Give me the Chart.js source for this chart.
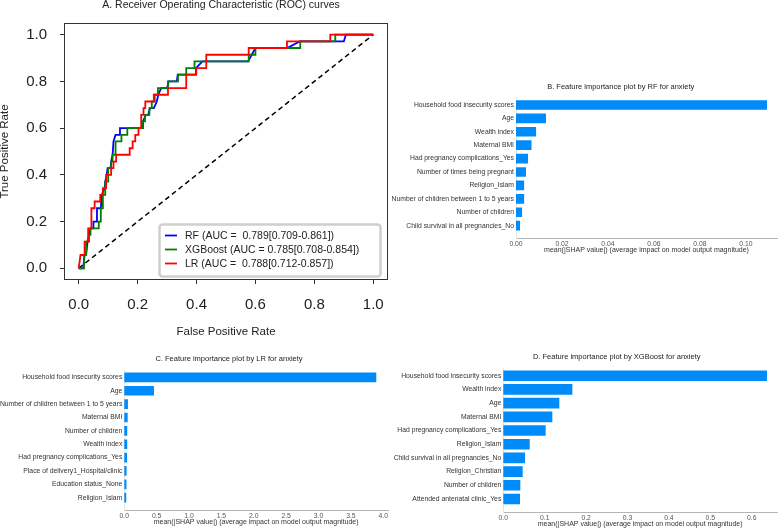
<!DOCTYPE html>
<html>
<head>
<meta charset="utf-8">
<title>ROC curves and SHAP feature importance</title>
<script src="https://cdn.jsdelivr.net/npm/chart.js@4.4.0/dist/chart.umd.min.js"></script>
<style>
    html, body { margin: 0; padding: 0; background: #fff; }
    #wrap { position: relative; width: 780px; height: 528px; }
    #wrap canvas { position: absolute; left: 0; top: 0; }
</style>
</head>
<body>
<div id="wrap">
    <canvas id="rocChart" width="780" height="528"></canvas>
    <canvas id="rfChart" width="780" height="528"></canvas>
    <canvas id="lrChart" width="780" height="528"></canvas>
    <canvas id="xgbChart" width="780" height="528"></canvas>
</div>
<script>
// ROC curves as [fpr, tpr] vertices
const rfRoc = [[0,0],[0.015,0],[0.02,0.057],[0.025,0.057],[0.03,0.114],[0.035,0.143],[0.04,0.171],[0.05,0.171],[0.05,0.2],
    [0.062,0.2],[0.062,0.257],[0.075,0.257],[0.078,0.314],[0.088,0.343],[0.09,0.371],[0.095,0.4],[0.098,0.429],[0.108,0.429],
    [0.11,0.457],[0.115,0.486],[0.118,0.543],[0.125,0.571],[0.138,0.571],[0.14,0.6],[0.215,0.6],[0.218,0.629],[0.228,0.657],
    [0.236,0.657],[0.242,0.686],[0.255,0.686],[0.265,0.714],[0.27,0.743],[0.28,0.771],[0.3,0.771],[0.305,0.8],[0.333,0.8],
    [0.336,0.829],[0.398,0.829],[0.398,0.857],[0.42,0.886],[0.575,0.886],[0.6,0.943],[0.708,0.943],[0.75,0.971],[0.9,0.971],
    [0.907,1],[1,1]];
const xgbRoc = [[0,0],[0.018,0],[0.018,0.057],[0.025,0.057],[0.025,0.114],[0.035,0.114],[0.035,0.143],[0.04,0.143],[0.04,0.171],
    [0.068,0.171],[0.068,0.2],[0.075,0.2],[0.075,0.257],[0.082,0.257],[0.082,0.314],[0.09,0.314],[0.09,0.371],[0.1,0.371],
    [0.1,0.429],[0.11,0.429],[0.11,0.457],[0.115,0.457],[0.115,0.486],[0.125,0.486],[0.125,0.543],[0.145,0.543],[0.145,0.571],
    [0.165,0.571],[0.165,0.6],[0.215,0.6],[0.215,0.629],[0.225,0.629],[0.225,0.657],[0.24,0.657],[0.24,0.686],[0.248,0.686],
    [0.248,0.714],[0.258,0.714],[0.258,0.743],[0.269,0.743],[0.269,0.771],[0.303,0.771],[0.303,0.8],[0.337,0.8],[0.337,0.829],
    [0.365,0.829],[0.365,0.857],[0.393,0.857],[0.393,0.886],[0.577,0.886],[0.577,0.914],[0.6,0.914],[0.6,0.943],[0.752,0.943],
    [0.752,0.971],[0.871,0.971],[0.871,1],[1,1]];
const lrRoc = [[0,0],[0.006,0.057],[0.02,0.057],[0.02,0.114],[0.032,0.114],[0.032,0.171],[0.043,0.171],[0.043,0.257],
    [0.054,0.257],[0.054,0.286],[0.073,0.286],[0.073,0.314],[0.082,0.314],[0.082,0.343],[0.093,0.343],[0.093,0.4],[0.11,0.4],
    [0.11,0.429],[0.118,0.429],[0.118,0.457],[0.127,0.457],[0.127,0.486],[0.173,0.486],[0.173,0.514],[0.183,0.514],[0.183,0.543],
    [0.192,0.543],[0.192,0.571],[0.203,0.571],[0.203,0.6],[0.212,0.6],[0.212,0.657],[0.22,0.657],[0.22,0.686],[0.226,0.686],
    [0.226,0.714],[0.255,0.714],[0.255,0.743],[0.303,0.743],[0.303,0.771],[0.365,0.771],[0.365,0.829],[0.399,0.829],
    [0.399,0.857],[0.433,0.857],[0.433,0.914],[0.577,0.914],[0.577,0.943],[0.707,0.943],[0.707,0.971],[0.854,0.971],[0.854,1],[1,1]];
const chanceLine = [[0,0],[1,1]];
const rocLabels = ['RF (AUC =  0.789[0.709-0.861])', 'XGBoost (AUC = 0.785[0.708-0.854])', 'LR (AUC =  0.788[0.712-0.857])'];
const rocTicks = [0, 0.2, 0.4, 0.6, 0.8, 1.0];

// SHAP mean |value| per feature, top to bottom
const rfFeatures = ['Household food insecurity scores', 'Age', 'Wealth index', 'Maternal BMI', 'Had pregnancy complications_Yes',
    'Number of times being pregnant', 'Religion_Islam', 'Number of children between 1 to 5 years', 'Number of children',
    'Child survival in all pregnancies_No'];
const rfShap = [0.109, 0.0129, 0.0086, 0.0066, 0.0051, 0.0042, 0.0034, 0.0034, 0.0025, 0.0016];
const rfTicks = [0, 0.02, 0.04, 0.06, 0.08, 0.10];

const lrFeatures = ['Household food insecurity scores', 'Age', 'Number of children between 1 to 5 years', 'Maternal BMI',
    'Number of children', 'Wealth index', 'Had pregnancy complications_Yes', 'Place of delivery1_Hospital/clinic',
    'Education status_None', 'Religion_Islam'];
const lrShap = [3.887, 0.453, 0.051, 0.047, 0.04, 0.04, 0.037, 0.03, 0.028, 0.025];
const lrTicks = [0, 0.5, 1.0, 1.5, 2.0, 2.5, 3.0, 3.5, 4.0];

const xgbFeatures = ['Household food insecurity scores', 'Wealth index', 'Age', 'Maternal BMI', 'Had pregnancy complications_Yes',
    'Religion_Islam', 'Child survival in all pregnancies_No', 'Religion_Christian', 'Number of children',
    'Attended antenatal clinic_Yes'];
const xgbShap = [0.636, 0.166, 0.1345, 0.1176, 0.1015, 0.063, 0.0517, 0.046, 0.0403, 0.0395];
const xgbTicks = [0, 0.1, 0.2, 0.3, 0.4, 0.5, 0.6];

const shapAxisTitle = 'mean(|SHAP value|) (average impact on model output magnitude)';
const shapBlue = '#008bfb';

Chart.defaults.font.family = "'Liberation Sans', Arial, Helvetica, sans-serif";
Chart.defaults.color = '#333';

// draws a panel title at a fixed spot
function panelTitle(text, x, y, size) {
    return {
        id: 'panelTitle',
        afterDraw(chart) {
            const ctx = chart.ctx;
            ctx.save();
            ctx.font = size + "px 'Liberation Sans', Arial, sans-serif";
            ctx.fillStyle = '#222';
            ctx.textAlign = 'center';
            ctx.textBaseline = 'middle';
            ctx.fillText(text, x, y);
            ctx.restore();
        }
    };
}

function toPoints(pairs) {
    return pairs.map(p => ({ x: p[0], y: p[1] }));
}

function rocSet(label, pairs, color, order) {
    return {
        label: label,
        data: toPoints(pairs),
        showLine: true,
        borderColor: color,
        backgroundColor: color,
        borderWidth: 1.8,
        pointRadius: 0,
        order: order
    };
}

// ROC panel
const rocBox = { left: 64, right: 388, top: 23, bottom: 280 };

const frame = {
    id: 'frame',
    afterDatasetsDraw(chart) {
        const a = chart.chartArea;
        const ctx = chart.ctx;
        ctx.save();
        ctx.strokeStyle = '#333';
        ctx.lineWidth = 1;
        ctx.strokeRect(a.left + 0.5, a.top + 0.5, a.right - a.left - 1, a.bottom - a.top - 1);
        ctx.restore();
    }
};

const rocLegend = {
    id: 'rocLegend',
    afterDraw(chart) {
        const ctx = chart.ctx;
        ctx.save();
        ctx.beginPath();
        ctx.roundRect(159.5, 224.5, 221, 52, 3);
        ctx.fillStyle = 'rgba(255,255,255,0.85)';
        ctx.fill();
        ctx.strokeStyle = '#cfcfcf';
        ctx.lineWidth = 2.5;
        ctx.stroke();
        ctx.font = "10.5px 'Liberation Sans', Arial, sans-serif";
        ctx.textBaseline = 'middle';
        ctx.textAlign = 'left';
        const rows = [235.5, 249.5, 263.5];
        for (let i = 0; i < 3; i++) {
            const ds = chart.data.datasets[i];
            ctx.strokeStyle = ds.borderColor;
            ctx.lineWidth = 1.8;
            ctx.beginPath();
            ctx.moveTo(165, rows[i]);
            ctx.lineTo(177, rows[i]);
            ctx.stroke();
            ctx.fillStyle = '#222';
            ctx.fillText(ds.label, 185, rows[i] + 0.5);
        }
        ctx.restore();
    }
};

function rocAxis(titleText, titlePad, labelPad) {
    return {
        type: 'linear',
        min: -0.05,
        max: 1.05,
        afterBuildTicks: s => { s.ticks = rocTicks.map(v => ({ value: v })); },
        grid: { display: true, drawOnChartArea: false, drawTicks: true, tickLength: 4, color: '#333' },
        border: { display: false },
        ticks: {
            font: { size: 15 },
            color: '#222',
            padding: labelPad,
            autoSkip: false,
            maxRotation: 0,
            callback: v => v.toFixed(1)
        },
        title: {
            display: true,
            text: titleText,
            color: '#222',
            font: { size: 11.5, lineHeight: 1 },
            padding: titlePad
        }
    };
}

const rocX = rocAxis('False Positive Rate', { top: 0, bottom: 4 }, 12);
rocX.afterFit = s => { s.height = 62; };
const rocY = rocAxis('True Positive Rate', { top: -1, bottom: 0 }, 13);
rocY.afterFit = s => { s.width = rocBox.left; };

new Chart('rocChart', {
    type: 'scatter',
    data: {
        datasets: [
            rocSet(rocLabels[0], rfRoc, '#0000ff', 2),
            rocSet(rocLabels[1], xgbRoc, '#008000', 1),
            rocSet(rocLabels[2], lrRoc, '#ff0000', 0),
            {
                label: 'chance',
                data: toPoints(chanceLine),
                showLine: true,
                borderColor: '#000',
                borderWidth: 1.5,
                borderDash: [5, 3.5],
                pointRadius: 0,
                order: 4
            }
        ]
    },
    options: {
        responsive: false,
        animation: false,
        devicePixelRatio: 1,
        layout: { padding: { left: 0, top: rocBox.top, right: 780 - rocBox.right, bottom: 528 - rocBox.bottom - 62 } },
        plugins: { legend: { display: false }, tooltip: { enabled: false } },
        scales: { x: rocX, y: rocY }
    },
    plugins: [frame, rocLegend, panelTitle('A. Receiver Operating Characteristic (ROC) curves', 221, 5.5, 10.5)]
});

// SHAP bar panels
function makeShapChart(id, names, values, ticks, g) {
    new Chart(id, {
        type: 'bar',
        data: {
            datasets: [{
                data: values.map((v, i) => ({ x: v, y: i })),
                backgroundColor: shapBlue,
                borderWidth: 0,
                barThickness: g.bar
            }]
        },
        options: {
            indexAxis: 'y',
            responsive: false,
            animation: false,
            devicePixelRatio: 1,
            layout: { padding: { left: 0, top: g.top, right: 780 - g.right, bottom: 528 - g.bottom - 16 } },
            plugins: { legend: { display: false }, tooltip: { enabled: false } },
            scales: {
                x: {
                    type: 'linear',
                    min: 0,
                    max: g.xMax,
                    afterBuildTicks: s => { s.ticks = ticks.map(v => ({ value: v })); },
                    afterFit: s => { s.height = 16; },
                    grid: { display: false, drawTicks: false, tickLength: 0 },
                    border: { color: '#b5b5b5' },
                    ticks: {
                        font: { size: 6.8 },
                        color: '#555',
                        padding: 2,
                        autoSkip: false,
                        maxRotation: 0,
                        callback: v => v.toFixed(g.dec)
                    },
                    title: {
                        display: true,
                        text: shapAxisTitle,
                        color: '#333',
                        font: { size: 7, lineHeight: 1 },
                        padding: { top: 0, bottom: 0.5 }
                    }
                },
                y: {
                    type: 'linear',
                    reverse: true,
                    offset: false,
                    min: -0.55,
                    max: 9.95,
                    afterBuildTicks: s => { s.ticks = names.map((n, i) => ({ value: i })); },
                    afterFit: s => { s.width = g.left; },
                    grid: { display: false, drawTicks: false, tickLength: 0, offset: false },
                    border: { color: '#e6e6e6' },
                    ticks: {
                        font: { size: 6.8 },
                        color: '#333',
                        padding: 2,
                        autoSkip: false,
                        callback: v => names[v]
                    }
                }
            }
        },
        plugins: [panelTitle(g.title, g.titleX, g.titleY, 7.5)]
    });
}

makeShapChart('rfChart', rfFeatures, rfShap, rfTicks, {
    left: 516, right: 777, top: 97.6, bottom: 238.4, xMax: 0.1135, dec: 2, bar: 9,
    title: 'B. Feature importance plot by RF for anxiety', titleX: 620.7, titleY: 87
});

makeShapChart('lrChart', lrFeatures, lrShap, lrTicks, {
    left: 124.3, right: 388, top: 370, bottom: 510.4, xMax: 4.073, dec: 1, bar: 9,
    title: 'C. Feature importance plot by LR for anxiety', titleX: 229, titleY: 359
});

makeShapChart('xgbChart', xgbFeatures, xgbShap, xgbTicks, {
    left: 503.3, right: 777, top: 368.2, bottom: 512, xMax: 0.661, dec: 1, bar: 10,
    title: 'D. Feature importance plot by XGBoost for anxiety', titleX: 616.7, titleY: 357.3
});
</script>
</body>
</html>
